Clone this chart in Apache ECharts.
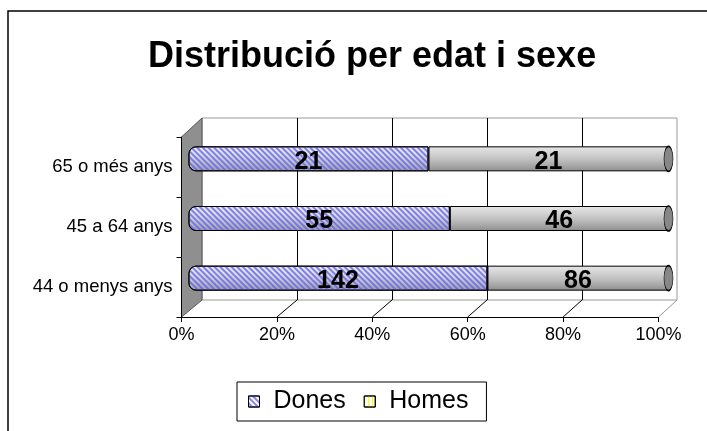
<!DOCTYPE html>
<html>
<head>
<meta charset="utf-8">
<script src="https://cdn.jsdelivr.net/npm/echarts@6/dist/echarts.min.js"></script>
<style>
  html, body { margin: 0; padding: 0; background: #fff; }
  #chart { width: 707px; height: 431px; }
</style>
</head>
<body>
<div id="chart"></div>
<script>
// data
var categories = ['44 o menys anys', '45 a 64 anys', '65 o més anys']
var dones = [142, 55, 21]
var homes = [86, 46, 21]
var xTicks = [0, 20, 40, 60, 80, 100]

var totals = dones.map(function(d, i) { return d + homes[i] })
var donesPct = dones.map(function(d, i) { return d / totals[i] * 100 })
var homesPct = homes.map(function(h, i) { return h / totals[i] * 100 })

// front plane, back wall, bars in between (fake 3d)
var F = { left: 181.5, top: 137, width: 477, height: 180 }
var B = { left: 202, top: 118, width: 475, height: 182 }
var M = { left: 188.5, top: 129, width: 480, height: 179 }
F.bottom = F.top + F.height
B.bottom = B.top + B.height

var FONT = 'Liberation Sans, Arial, sans-serif'

var stripes = {
  symbol: 'rect',
  symbolSize: 1,
  color: 'rgba(100,100,235,0.78)',
  dashArrayX: [1, 0],
  dashArrayY: [2, 2],
  rotation: Math.PI / 4
}

var chart = echarts.init(document.getElementById('chart'))

var option = {
  backgroundColor: '#fff',
  animation: false,
  title: {
    text: 'Distribució per edat i sexe',
    left: 143,
    top: 34,
    textStyle: { fontFamily: FONT, fontSize: 36, fontWeight: 'bold', color: '#000' }
  },
  legend: {
    left: 237,
    top: 382,
    padding: [7, 18, 7, 11],
    borderColor: '#000',
    borderWidth: 1,
    itemWidth: 11,
    itemHeight: 11,
    itemGap: 18,
    icon: 'rect',
    textStyle: { fontFamily: FONT, fontSize: 25, color: '#000', padding: [0, 0, 0, 9] },
    data: [
      { name: 'Dones', itemStyle: { color: '#fff', borderColor: '#000', borderWidth: 1, decal: stripes } },
      { name: 'Homes', itemStyle: { color: '#fff', borderColor: '#000', borderWidth: 1,
        decal: { symbol: 'rect', symbolSize: 1, color: '#ffee00', dashArrayX: [1, 3], dashArrayY: [1, 0], rotation: 0 } } }
    ]
  },
  grid: [
    { left: F.left, top: F.top, width: F.width, height: F.height, outerBoundsMode: 'none' },
    { left: B.left, top: B.top, width: B.width, height: B.height, outerBoundsMode: 'none',
      show: true, backgroundColor: '#fff', borderColor: '#999', borderWidth: 1 },
    { left: M.left, top: M.top, width: M.width, height: M.height, outerBoundsMode: 'none' }
  ],
  xAxis: [
    {
      gridIndex: 0, type: 'value', min: 0, max: 100, interval: 20, z: 5,
      axisLine: { show: true, lineStyle: { color: '#000', width: 1 } },
      axisTick: { show: true, length: 5, lineStyle: { color: '#000' } },
      axisLabel: { formatter: '{value}%', fontFamily: FONT, fontSize: 18, color: '#000', margin: 9 },
      splitLine: { show: false }
    },
    {
      gridIndex: 1, type: 'value', min: 0, max: 100, interval: 20,
      axisLine: { show: false }, axisTick: { show: false }, axisLabel: { show: false },
      splitLine: { show: true, showMinLine: false, showMaxLine: false, lineStyle: { color: '#000', width: 1 } }
    },
    {
      gridIndex: 2, type: 'value', min: 0, max: 100, show: false
    }
  ],
  yAxis: [
    {
      gridIndex: 0, type: 'category', data: categories, z: 5,
      axisLine: { show: true, lineStyle: { color: '#000', width: 1 } },
      axisTick: { show: true, length: 5, lineStyle: { color: '#000' } },
      axisLabel: { fontFamily: FONT, fontSize: 18.5, color: '#000', margin: 9 }
    },
    { gridIndex: 1, type: 'category', data: categories, show: false },
    { gridIndex: 2, type: 'category', data: categories, show: false }
  ],
  series: [
    {
      name: 'Dones',
      type: 'bar',
      stack: 'total',
      xAxisIndex: 2,
      yAxisIndex: 2,
      barWidth: 25,
      z: 3,
      data: donesPct,
      itemStyle: {
        color: {
          type: 'linear', x: 0, y: 0, x2: 0, y2: 1,
          colorStops: [
            { offset: 0, color: '#eeeef4' },
            { offset: 0.35, color: '#dcdce4' },
            { offset: 0.7, color: '#bcbcc8' },
            { offset: 1, color: '#9a9aaa' }
          ]
        },
        borderColor: '#000',
        borderWidth: 1,
        borderRadius: [7, 0, 0, 7],
        decal: stripes
      },
      label: {
        show: true,
        position: 'inside',
        offset: [0, 3],
        formatter: function(p) { return dones[p.dataIndex] },
        fontFamily: FONT, fontSize: 25, fontWeight: 'bold', color: '#000'
      }
    },
    {
      name: 'Homes',
      type: 'bar',
      stack: 'total',
      xAxisIndex: 2,
      yAxisIndex: 2,
      barWidth: 25,
      z: 3,
      data: homesPct,
      itemStyle: {
        color: {
          type: 'linear', x: 0, y: 0, x2: 0, y2: 1,
          colorStops: [
            { offset: 0, color: '#e6e6e6' },
            { offset: 0.3, color: '#d2d2d2' },
            { offset: 0.55, color: '#bebebe' },
            { offset: 0.8, color: '#a4a4a4' },
            { offset: 1, color: '#8c8c8c' }
          ]
        },
        borderColor: '#000',
        borderWidth: 1
      },
      label: {
        show: true,
        position: 'inside',
        offset: [0, 3],
        formatter: function(p) { return homes[p.dataIndex] },
        fontFamily: FONT, fontSize: 25, fontWeight: 'bold', color: '#000'
      }
    },
    {
      // end caps of the cylinders
      name: 'cap',
      type: 'scatter',
      xAxisIndex: 2,
      yAxisIndex: 2,
      silent: true,
      z: 4,
      symbol: 'path://M50,0 A50,50 0 1,1 50,100 A50,50 0 1,1 50,0 Z',
      symbolKeepAspect: false,
      symbolSize: [9, 25],
      itemStyle: { color: '#878787', borderColor: '#000', borderWidth: 1, opacity: 1 },
      data: categories.map(function(c, i) { return [100, i] })
    }
  ]
}

chart.setOption(option)

// walls, floor lines and the outer frame
var els = []
els.push({
  type: 'polygon', z: 1, silent: true,
  shape: { points: [[F.left, F.top], [B.left, B.top], [B.left, B.bottom], [F.left, F.bottom]] },
  style: { fill: '#8f8f8f', stroke: '#555', lineWidth: 1 }
})
xTicks.forEach(function(v) {
  if (v === 0) return
  var xf = chart.convertToPixel({ xAxisIndex: 0 }, v)
  var xb = chart.convertToPixel({ xAxisIndex: 1 }, v)
  els.push({
    type: 'line', z: 1, silent: true,
    shape: { x1: xb, y1: B.bottom, x2: xf, y2: F.bottom },
    style: { stroke: v === 100 ? '#999' : '#000', lineWidth: 1 }
  })
})
els.push({
  type: 'rect', z: 0, silent: true,
  shape: { x: 8, y: 11, width: 720, height: 440 },
  style: { fill: null, stroke: '#000', lineWidth: 1.5 }
})
chart.setOption({ graphic: els })
</script>
</body>
</html>
